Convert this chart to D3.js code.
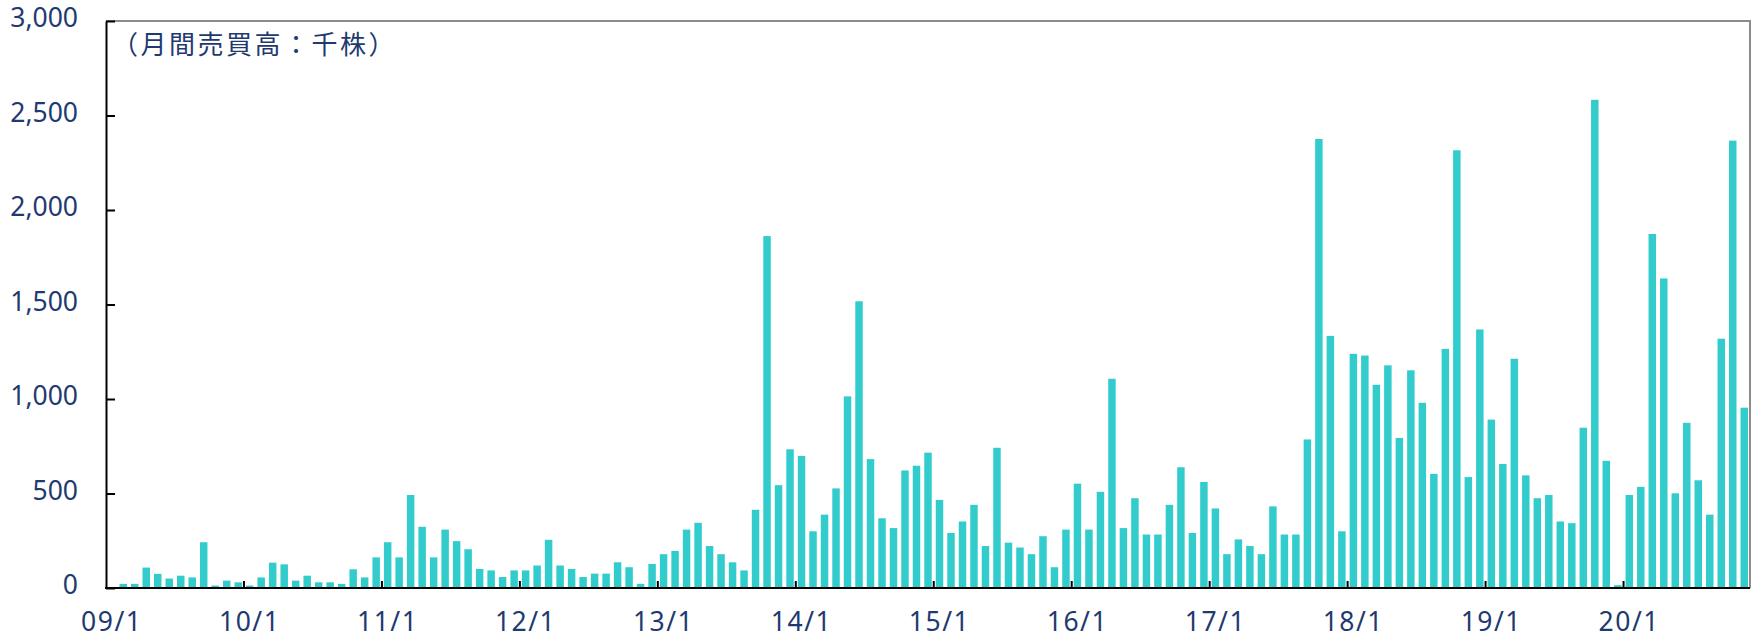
<!DOCTYPE html>
<html>
<head>
<meta charset="utf-8">
<script src="https://cdn.jsdelivr.net/npm/d3@7"></script>
<style>
  body { margin: 0; background: #fff; }
  svg text { font-family: "Noto Sans", "DejaVu Sans", sans-serif; fill: #1f3a70; }
</style>
</head>
<body>
<div id="chart"></div>
<script>
// monthly volume (thousand shares), one array per year, Jan..Dec
const vol2009 = [0, 22, 22, 108, 75, 50, 65, 56, 242, 13, 39, 30];
const vol2010 = [13, 56, 134, 125, 39, 65, 30, 30, 22, 99, 56, 162];
const vol2011 = [242, 162, 492, 324, 162, 309, 248, 205, 101, 93, 58, 93];
const vol2012 = [93, 119, 255, 119, 101, 58, 76, 76, 136, 110, 22, 127];
const vol2013 = [179, 196, 309, 345, 222, 179, 136, 93, 414, 1862, 544, 734];
const vol2014 = [699, 300, 388, 527, 1014, 1517, 682, 369, 317, 622, 647, 716];
const vol2015 = [466, 291, 352, 440, 222, 742, 240, 214, 179, 274, 110, 309];
const vol2016 = [552, 309, 509, 1107, 317, 475, 283, 283, 440, 639, 291, 561];
const vol2017 = [421, 179, 257, 222, 179, 432, 283, 283, 786, 2376, 1334, 300];
const vol2018 = [1239, 1230, 1075, 1178, 794, 1152, 980, 604, 1265, 2316, 587, 1368];
const vol2019 = [891, 656, 1213, 596, 475, 492, 352, 343, 848, 2583, 673, 15];
const vol2020 = [492, 535, 1873, 1638, 501, 874, 570, 388, 1319, 2367, 954];

const years = ["09", "10", "11", "12", "13", "14", "15", "16", "17", "18", "19", "20"];
const yearLabels = ["09/1", "10/1", "11/1", "12/1", "13/1", "14/1", "15/1", "16/1", "17/1", "18/1", "19/1", "20/1"];
const yTicks = [0, 500, 1000, 1500, 2000, 2500, 3000];
const unitLabel = "（月間売買高：千株）";

const byYear = [vol2009, vol2010, vol2011, vol2012, vol2013, vol2014, vol2015, vol2016, vol2017, vol2018, vol2019, vol2020];
let data = [];
byYear.forEach((arr, yi) => {
    arr.forEach((v, m) => data.push({ key: years[yi] + "/" + (m + 1), value: v }));
});

const W = 1755, H = 640;
const plotL = 106, plotR = 1750, plotT = 21, plotB = 588;

const svg = d3.select("#chart").append("svg").attr("width", W).attr("height", H);

const pad = 0.35;
const x = d3.scaleBand().domain(data.map(d => d.key)).range([plotL, plotR])
    .paddingInner(pad).paddingOuter(pad / 2);
const y = d3.scaleLinear().domain([0, 3000]).range([plotB, plotT]);

// bars
svg.append("g").selectAll("rect").data(data).join("rect")
    .attr("x", d => x(d.key))
    .attr("y", d => y(d.value))
    .attr("width", x.bandwidth())
    .attr("height", d => plotB - y(d.value))
    .attr("fill", "#33cccc");

// grey frame on top and right
svg.append("path")
    .attr("d", `M${plotL},${plotT}H${plotR}V${plotB}`)
    .attr("fill", "none").attr("stroke", "#8c8c8c").attr("stroke-width", 2);

// y axis, ticks point inward
const yAxis = svg.append("g").attr("transform", `translate(${plotL},0)`)
    .call(d3.axisLeft(y).tickValues(yTicks).tickFormat(d3.format(",")).tickSize(-9).tickSizeOuter(0).tickPadding(28));
yAxis.select(".domain").attr("stroke", "#000").attr("stroke-width", 2);
yAxis.selectAll(".tick line").attr("stroke", "#000").attr("stroke-width", 2);
yAxis.selectAll("text").attr("font-size", 26.5).attr("dy", "0.22em");

// x axis: labels under January bars, ticks on year boundaries
const janKeys = years.map(yy => yy + "/1");
const xAxis = svg.append("g").attr("transform", `translate(0,${plotB})`)
    .call(d3.axisBottom(x).tickValues(janKeys).tickFormat((d, i) => yearLabels[i]).tickSize(0).tickPadding(24));
xAxis.select(".domain").remove();
xAxis.selectAll("text").attr("font-size", 26.5).attr("letter-spacing", 1.5);

const edge = x.step() * x.paddingOuter();
svg.append("g").selectAll("line").data(janKeys.slice(1)).join("line")
    .attr("x1", d => x(d) - edge).attr("x2", d => x(d) - edge)
    .attr("y1", plotB).attr("y2", plotB - 7)
    .attr("stroke", "#000").attr("stroke-width", 2);

svg.append("line")
    .attr("x1", plotL - 1).attr("x2", plotR).attr("y1", plotB).attr("y2", plotB)
    .attr("stroke", "#000").attr("stroke-width", 2);

// unit note
svg.append("text")
    .attr("x", 112).attr("y", 54)
    .attr("font-size", 26)
    .attr("letter-spacing", 2.5)
    .style("font-family", "'Noto Sans CJK JP', sans-serif")
    .text(unitLabel);
</script>
</body>
</html>
